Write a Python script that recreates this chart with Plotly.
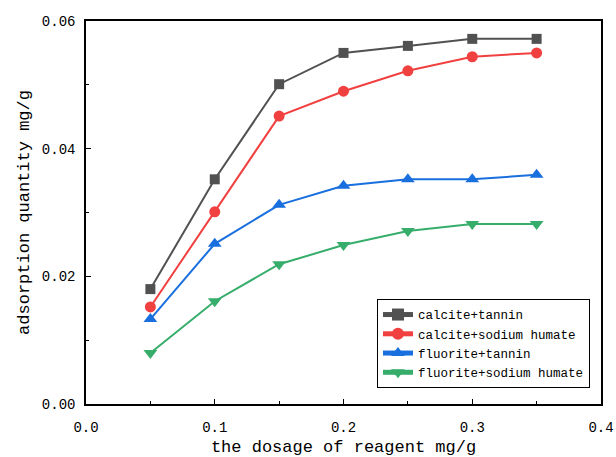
import plotly.graph_objects as go

dosage = [0.05, 0.10, 0.15, 0.20, 0.25, 0.30, 0.35]
calcite_tannin = [0.0180, 0.0352, 0.0501, 0.0550, 0.0561, 0.0572, 0.0572]
calcite_humate = [0.0152, 0.0301, 0.0451, 0.0490, 0.0522, 0.0544, 0.0550]
fluorite_tannin = [0.0133, 0.0251, 0.0312, 0.0342, 0.0352, 0.0352, 0.0359]
fluorite_humate = [0.0080, 0.0161, 0.0219, 0.0249, 0.0271, 0.0282, 0.0282]

names = ["calcite+tannin", "calcite+sodium humate", "fluorite+tannin", "fluorite+sodium humate"]
series = [calcite_tannin, calcite_humate, fluorite_tannin, fluorite_humate]
colors = ["#515151", "#F14040", "#1A6FDF", "#37AD6B"]
symbols = ["square", "circle", "triangle-up", "triangle-down"]
msizes = [10, 11, 12, 12]

FONT = "Liberation Mono, Courier New, monospace"

fig = go.Figure()
for n, s, c, m, ms in zip(names, series, colors, symbols, msizes):
    fig.add_trace(go.Scatter(
        x=dosage, y=s, name=n, mode="lines+markers",
        line=dict(color=c, width=2),
        marker=dict(symbol=m, size=ms, color=c, line=dict(width=0)),
    ))

axis_common = dict(
    showline=True, linecolor="black", linewidth=1.5, mirror=True,
    ticks="inside", ticklen=5, tickwidth=1.2, tickcolor="black",
    showgrid=False, zeroline=False, automargin=False,
    tickfont=dict(family=FONT, size=14, color="black"),
)

fig.update_xaxes(
    range=[0, 0.4], tickvals=[0, 0.1, 0.2, 0.3, 0.4],
    ticktext=["0.0", "0.1", "0.2", "0.3", "0.4"],
    ticklabelstandoff=9,
    minor=dict(ticks="inside", ticklen=3, tickvals=[0.05, 0.15, 0.25, 0.35], tickcolor="black"),
    title=dict(text="the dosage of reagent mg/g", font=dict(family=FONT, size=17, color="black"), standoff=8),
    **axis_common,
)
fig.update_yaxes(
    range=[0, 0.06], tickvals=[0, 0.02, 0.04, 0.06],
    ticktext=["0.00", "0.02", "0.04", "0.06"],
    ticklabelstandoff=6,
    minor=dict(ticks="inside", ticklen=3, tickvals=[0.01, 0.03, 0.05], tickcolor="black"),
    title=dict(text="adsorption quantity mg/g", font=dict(family=FONT, size=17, color="black"), standoff=8),
    **axis_common,
)

fig.update_layout(
    width=616, height=457,
    margin=dict(l=86, r=15, t=21, b=53),
    paper_bgcolor="white", plot_bgcolor="white",
    font=dict(family=FONT, color="black"),
    legend=dict(
        x=0.565, y=0.042, xanchor="left", yanchor="bottom",
        bordercolor="black", borderwidth=1, bgcolor="white",
        font=dict(family=FONT, size=12.5, color="black"),
        tracegroupgap=0, itemsizing="constant",
    ),
    showlegend=True,
)

fig.write_html("out.html")
